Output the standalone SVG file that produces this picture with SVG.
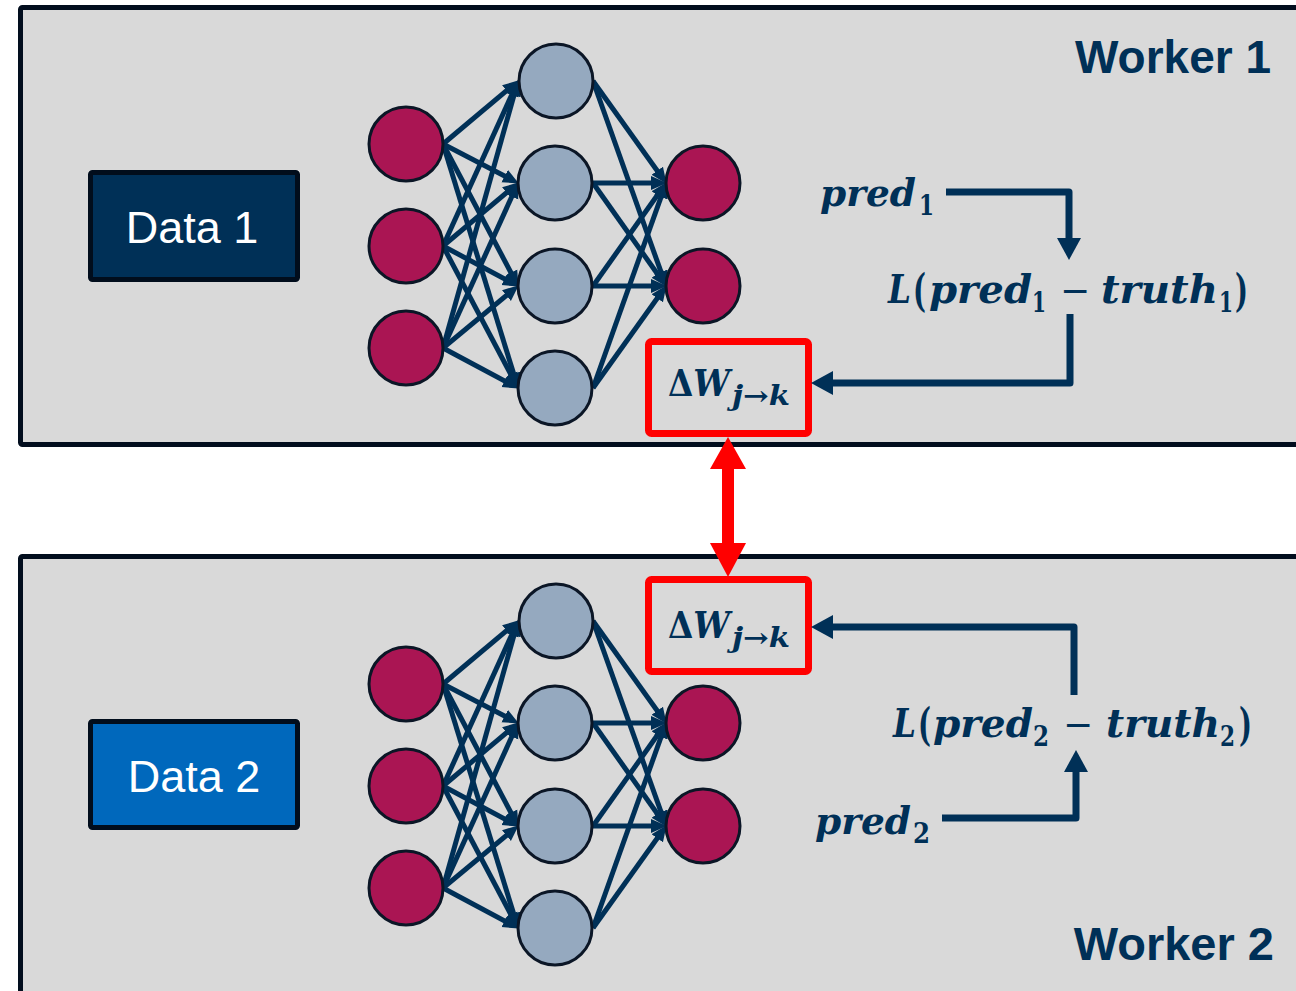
<svg xmlns="http://www.w3.org/2000/svg" xmlns:xlink="http://www.w3.org/1999/xlink" width="1296" height="991" viewBox="0 0 1296 991">
<style>
.panel{fill:#d9d9d9;stroke:#020e1e;stroke-width:5}
.data{stroke:#010d1c;stroke-width:5}
.dtxt{font-family:"Liberation Sans",Arial,sans-serif;font-size:45px;fill:#ffffff;text-anchor:middle}
.wtxt{font-family:"Liberation Sans",Arial,sans-serif;font-size:46px;font-weight:bold;fill:#003057;text-anchor:end}
.in{fill:#aa1553;stroke:#0b1626;stroke-width:3}
.hid{fill:#95a9bf;stroke:#0b1626;stroke-width:3}
.edge{stroke:#003057;stroke-width:5;fill:none;marker-end:url(#ah)}
.flow{stroke:#003057;stroke-width:7;fill:none;stroke-linejoin:round;marker-end:url(#fh)}
.m{font-family:"DejaVu Serif","Liberation Serif",serif;font-weight:bold;font-style:italic;fill:#003057}
.u{font-family:"DejaVu Serif","Liberation Serif",serif;font-weight:bold;font-style:normal;fill:#003057}
.s{font-family:"DejaVu Sans","Liberation Sans",sans-serif;font-weight:normal;fill:#003057}
.redbox{fill:none;stroke:#ff0000;stroke-width:7}
</style>
<defs>
<marker id="ah" markerUnits="userSpaceOnUse" markerWidth="18" markerHeight="16" refX="7" refY="7.5" orient="auto">
<path d="M0,0.5 L16,7.5 L0,14.5 z" fill="#003057"/>
</marker>
<marker id="fh" markerUnits="userSpaceOnUse" markerWidth="24" markerHeight="26" refX="0" refY="12" orient="auto">
<path d="M0,0 L22,12 L0,24 z" fill="#003057"/>
</marker>
</defs>

<g id="worker1">
<rect class="panel" x="20.5" y="7.5" width="1300" height="437" rx="2"/>
<text class="wtxt" x="1271" y="73">Worker 1</text>
</g>
<g id="worker2">
<rect class="panel" x="20.5" y="556.5" width="1300" height="450" rx="2"/>
<text class="wtxt" x="1274" y="960" style="font-size:47px">Worker 2</text>
</g>

<g id="data1">
<rect class="data" x="90.5" y="172.5" width="207" height="107" rx="2" fill="#003057"/>
<text class="dtxt" x="192" y="243">Data 1</text>
</g>
<g id="data2">
<rect class="data" x="90.5" y="721.5" width="207" height="106" rx="2" fill="#0068bc"/>
<text class="dtxt" x="194" y="792">Data 2</text>
</g>

<g id="nn1-edges">
<path class="edge" d="M443 144 L511.9 86.15"/>
<path class="edge" d="M443 144 L510.9 179.31"/>
<path class="edge" d="M443 144 L514.3 278.93"/>
<path class="edge" d="M443 144 L515.65 380.35"/>
<path class="edge" d="M443 246 L514.7 88.28"/>
<path class="edge" d="M443 246 L511.9 188.15"/>
<path class="edge" d="M443 246 L510.9 282.24"/>
<path class="edge" d="M443 246 L514.3 380.93"/>
<path class="edge" d="M443 348 L515.8 88.70"/>
<path class="edge" d="M443 348 L514.7 190.28"/>
<path class="edge" d="M443 348 L511.8 291.10"/>
<path class="edge" d="M443 348 L510.9 384.24"/>
<path class="edge" d="M593 81 L661.34 176.49"/>
<path class="edge" d="M593 81 L663.32 278.46"/>
<path class="edge" d="M593 183 L658 183"/>
<path class="edge" d="M593 183 L661.37 279.47"/>
<path class="edge" d="M593 286 L661.37 189.53"/>
<path class="edge" d="M593 286 L658 286"/>
<path class="edge" d="M593 388 L663.32 190.54"/>
<path class="edge" d="M593 388 L661.34 292.51"/>
</g>
<g id="nn2-edges">
<use xlink:href="#nn1-edges" href="#nn1-edges" transform="translate(0,540)"/>
</g>

<g id="w1-in1"><circle class="in" cx="406" cy="144" r="37"/></g>
<g id="w1-in2"><circle class="in" cx="406" cy="246" r="37"/></g>
<g id="w1-in3"><circle class="in" cx="406" cy="348" r="37"/></g>
<g id="w1-h1"><circle class="hid" cx="556" cy="81" r="37"/></g>
<g id="w1-h2"><circle class="hid" cx="555" cy="183" r="37"/></g>
<g id="w1-h3"><circle class="hid" cx="555" cy="286" r="37"/></g>
<g id="w1-h4"><circle class="hid" cx="555" cy="388" r="37"/></g>
<g id="w1-out1"><circle class="in" cx="703" cy="183" r="37"/></g>
<g id="w1-out2"><circle class="in" cx="703" cy="286" r="37"/></g>

<g id="w2-in1"><circle class="in" cx="406" cy="684" r="37"/></g>
<g id="w2-in2"><circle class="in" cx="406" cy="786" r="37"/></g>
<g id="w2-in3"><circle class="in" cx="406" cy="888" r="37"/></g>
<g id="w2-h1"><circle class="hid" cx="556" cy="621" r="37"/></g>
<g id="w2-h2"><circle class="hid" cx="555" cy="723" r="37"/></g>
<g id="w2-h3"><circle class="hid" cx="555" cy="826" r="37"/></g>
<g id="w2-h4"><circle class="hid" cx="555" cy="928" r="37"/></g>
<g id="w2-out1"><circle class="in" cx="703" cy="723" r="37"/></g>
<g id="w2-out2"><circle class="in" cx="703" cy="826" r="37"/></g>

<g id="dw1">
<rect class="redbox" x="648.5" y="341.5" width="160" height="92" rx="3"/>
<text class="m" x="668" y="396" font-size="38" textLength="62" lengthAdjust="spacingAndGlyphs"><tspan class="u">Δ</tspan>W</text>
<text class="m" x="732" y="405" font-size="27" textLength="58" lengthAdjust="spacingAndGlyphs">j<tspan class="u">→</tspan>k</text>
</g>
<g id="dw2">
<rect class="redbox" x="648.5" y="579.5" width="160" height="92" rx="3"/>
<text class="m" x="668" y="638" font-size="38" textLength="62" lengthAdjust="spacingAndGlyphs"><tspan class="u">Δ</tspan>W</text>
<text class="m" x="732" y="647" font-size="27" textLength="58" lengthAdjust="spacingAndGlyphs">j<tspan class="u">→</tspan>k</text>
</g>

<g id="pred1">
<text class="m" x="820" y="206" font-size="38" textLength="96" lengthAdjust="spacingAndGlyphs">pred</text>
<text class="u" x="919" y="215" font-size="28" textLength="15" lengthAdjust="spacingAndGlyphs">1</text>
</g>
<g id="loss1">
<text class="m" x="888" y="303" font-size="40" textLength="23" lengthAdjust="spacingAndGlyphs">L</text>
<text class="u" x="913" y="306" font-size="44" textLength="13" lengthAdjust="spacingAndGlyphs">(</text>
<text class="m" x="929" y="303" font-size="40" textLength="103" lengthAdjust="spacingAndGlyphs">pred</text>
<text class="u" x="1032" y="312" font-size="28" textLength="14" lengthAdjust="spacingAndGlyphs">1</text>
<text class="s" x="1060" y="303" font-size="36">−</text>
<text class="m" x="1101" y="303" font-size="40" textLength="117" lengthAdjust="spacingAndGlyphs">truth</text>
<text class="u" x="1219" y="312" font-size="28" textLength="14" lengthAdjust="spacingAndGlyphs">1</text>
<text class="u" x="1235" y="306" font-size="44" textLength="13" lengthAdjust="spacingAndGlyphs">)</text>
</g>
<g id="pred2">
<text class="m" x="815" y="834" font-size="38" textLength="96" lengthAdjust="spacingAndGlyphs">pred</text>
<text class="u" x="913" y="843" font-size="28" textLength="17" lengthAdjust="spacingAndGlyphs">2</text>
</g>
<g id="loss2">
<text class="m" x="893" y="737" font-size="40" textLength="23" lengthAdjust="spacingAndGlyphs">L</text>
<text class="u" x="918" y="740" font-size="44" textLength="13" lengthAdjust="spacingAndGlyphs">(</text>
<text class="m" x="933" y="737" font-size="40" textLength="100" lengthAdjust="spacingAndGlyphs">pred</text>
<text class="u" x="1033" y="746" font-size="28" textLength="16" lengthAdjust="spacingAndGlyphs">2</text>
<text class="s" x="1063" y="737" font-size="36">−</text>
<text class="m" x="1106" y="737" font-size="40" textLength="114" lengthAdjust="spacingAndGlyphs">truth</text>
<text class="u" x="1220" y="746" font-size="28" textLength="15" lengthAdjust="spacingAndGlyphs">2</text>
<text class="u" x="1239" y="740" font-size="44" textLength="13" lengthAdjust="spacingAndGlyphs">)</text>
</g>

<g id="connectors">
<path class="flow" d="M946 192 H1069 V238"/>
<path class="flow" d="M1070 314 V383 H833"/>
<path class="flow" d="M1074 695 V627 H833"/>
<path class="flow" d="M942 818 H1076 V772"/>
<g id="sync">
<rect x="722" y="467" width="12" height="78" fill="#ff0000"/>
<path d="M728 437 L746 469 L710 469 z" fill="#ff0000"/>
<path d="M728 577 L746 543 L710 543 z" fill="#ff0000"/>
</g>
</g>
</svg>
